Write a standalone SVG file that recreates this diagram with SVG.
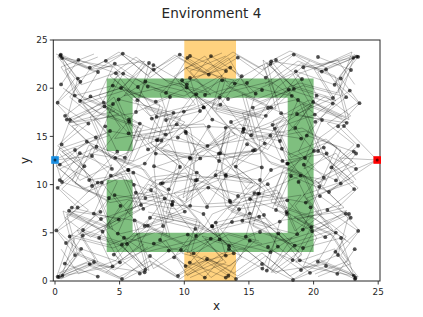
<svg xmlns="http://www.w3.org/2000/svg" width="423" height="317" viewBox="0 0 423 317">
<style>
text{font-family:"DejaVu Sans","Liberation Sans",sans-serif;fill:#262626}
.tk{font-size:8.8px}
.lab{font-size:12px}
.e{fill:none;stroke:#000;stroke-opacity:.27;stroke-width:.9;stroke-linejoin:round}
.d{marker-start:url(#dot);marker-mid:url(#dot);marker-end:url(#dot)}
.dt{marker-start:url(#dotT);marker-mid:url(#dotT);marker-end:url(#dotT)}
.tick{stroke:#262626;stroke-width:.9}
</style>
<defs>
<marker id="dot" markerUnits="userSpaceOnUse" viewBox="-3 -3 6 6" markerWidth="6" markerHeight="6" overflow="visible"><circle r="1.9" fill="#000" fill-opacity=".68"/></marker>
<marker id="dotT" markerUnits="userSpaceOnUse" viewBox="-3 -3 6 6" markerWidth="6" markerHeight="6" overflow="visible"><ellipse rx="2.54" ry="1.42" fill="#000" fill-opacity=".68"/></marker>
<path id="net" vector-effect="non-scaling-stroke" d="M62 58L98 72L80 101L121 88L149 63L136 112L170 97L158 140L110 131L75 150L92 186L128 170L141 205L101 219L66 243
M190 56L226 71L205 95L247 83L276 60L302 79L268 108L231 122L255 150L219 161L186 133L197 180L238 196L212 226L181 250
M318 57L351 70L333 98L297 114L344 126L318 151L356 169L329 192L291 176L276 210L312 231L349 214L338 255L301 270L268 247
M59 277L94 262L122 279L150 256L178 276L207 259L236 279L262 264L293 280L326 266L355 279L341 238L303 248L260 232L229 246
M70 120L113 104L92 156L62 182L109 198L83 230L127 244L163 226L151 190L180 167L166 120L200 111L190 78L228 99L262 90
M243 132L280 141L298 100L322 120L305 158L271 170L250 199L287 214L260 180L226 176L207 207L172 205L196 236L232 222L264 215"/>
</defs>
<g id="regions">
<path id="obstacles" fill="#008000" fill-opacity=".5" d="M106.7 78.6H313.6V97.8H106.7Z M106.7 78.6H132.6V150.9H106.7Z M287.7 78.6H313.6V252.1H287.7Z M106.7 232.8H313.6V252.1H106.7Z M106.7 179.8H132.6V252.1H106.7Z"/>
<rect id="goal-top" x="184.3" y="40" width="51.7" height="38.6" fill="#ffa500" fill-opacity=".5"/>
<rect id="goal-bottom" x="184.3" y="252.1" width="51.7" height="28.9" fill="#ffa500" fill-opacity=".5"/>
</g>
<g id="connectors">
<use href="#net" class="e d"/>
<use href="#net" class="e d" transform="matrix(-1 0 0 -1 415.8 333.6)"/>
<use href="#net" class="e" transform="matrix(-1 0 0 1 415.8 0)"/>
<use href="#net" class="e" transform="matrix(1 0 0 -1 0 333.6)"/>
<use href="#net" class="e dt" transform="matrix(0 -0.7473 1.3382 0 -15.2 322.1)"/>
<use href="#net" class="e dt" transform="matrix(0 0.7473 -1.3382 0 431 11.5)"/>
<use href="#net" class="e" transform="matrix(0 -0.7473 -1.3382 0 431 322.1)"/>
<use href="#net" class="e" transform="matrix(0 0.7473 1.3382 0 -15.2 11.5)"/>
<use href="#net" class="e" transform="matrix(-1 0 0 1 412 -3)"/>
<use href="#net" class="e" transform="matrix(1 0 0 -1 -3 331)"/>
<path class="e" d="M55 160L75 150M55 160L92 156M55 160L62 182M55 160L70 120M377 160L356 169M377 160L344 126M377 160L329 192M377 160L340 158"/>
</g>
<g id="axes" fill="none" stroke="#262626" stroke-width="1">
<rect x="53.3" y="40" width="326.7" height="241"/>
<path class="tick" d="M55 281v3.5M119.6 281v3.5M184.3 281v3.5M248.9 281v3.5M313.6 281v3.5M378.2 281v3.5M53.3 281h-3.5M53.3 232.8h-3.5M53.3 184.6h-3.5M53.3 136.4h-3.5M53.3 88.2h-3.5M53.3 40h-3.5"/>
</g>
<g id="start"><rect x="51.2" y="156.2" width="7.6" height="7.6" fill="#1a8fe3"/><circle cx="55" cy="160" r="1.5" fill="#000" fill-opacity=".6"/></g>
<g id="end"><rect x="373.4" y="156.2" width="7.6" height="7.6" fill="#ff0000"/><circle cx="377.2" cy="160" r="1.5" fill="#000" fill-opacity=".6"/></g>
<g id="labels">
<text x="211.5" y="18" font-size="13.6" text-anchor="middle">Environment 4</text>
<g class="tk" text-anchor="middle">
<text x="55" y="295">0</text><text x="119.6" y="295">5</text><text x="184.3" y="295">10</text><text x="248.9" y="295">15</text><text x="313.6" y="295">20</text><text x="378.2" y="295">25</text>
</g>
<g class="tk" text-anchor="end">
<text x="47.5" y="284.1">0</text><text x="47.5" y="235.9">5</text><text x="47.5" y="187.7">10</text><text x="47.5" y="139.5">15</text><text x="47.5" y="91.3">20</text><text x="47.5" y="43.1">25</text>
</g>
<text class="lab" x="216.6" y="310" text-anchor="middle">x</text>
<text class="lab" transform="translate(29 160.5) rotate(-90)" text-anchor="middle">y</text>
</g>
</svg>
